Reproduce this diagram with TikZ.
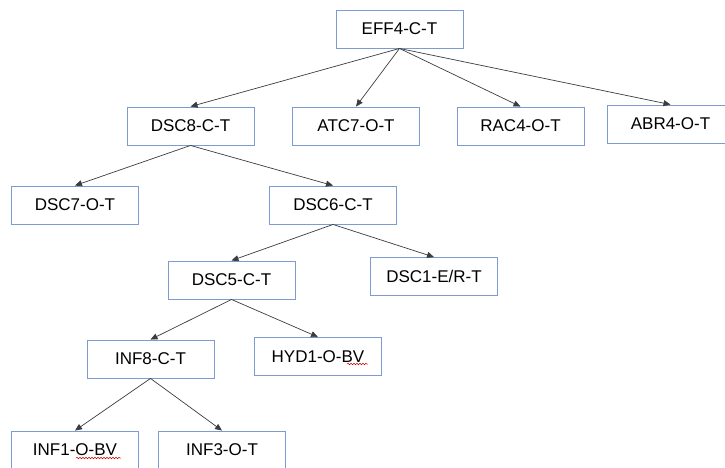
\documentclass[tikz,border=0pt]{standalone}
\usepackage{fontspec}
\setmainfont{Liberation Sans}
\usepackage{tikz}
\usetikzlibrary{positioning,arrows.meta,decorations.pathmorphing}
\definecolor{boxblue}{RGB}{125,155,208}
\definecolor{lnk}{RGB}{60,60,60}
\tikzset{%
  blk/.style={%
    draw=boxblue,
    line width=0.9pt,
    minimum width=127pt,
    minimum height=38pt,
    inner sep=0pt,
    font=\fontsize{17}{20}\selectfont
  },
  ptr/.style={%
    -{Triangle[length=7pt,width=6pt]},
    draw=lnk,
    line width=0.7pt
  },
  spell/.style={%
    draw=red!80!black,
    line width=0.5pt,
    decorate,
    decoration={snake,amplitude=0.8pt,segment length=3pt}
  }
}

\begin{document}
\begin{tikzpicture}[x=1pt,y=-1pt]
    \clip (0,0) rectangle (725,467);

    \node[blk] (eff4) at (399.5,29) {EFF4-C-T};

    \node[blk] (dsc8) at (190.5,126) {DSC8-C-T};
    \node[blk] (atc7) at (356,126) {ATC7-O-T};
    \node[blk] (rac4) at (520.5,126) {RAC4-O-T};
    \node[blk] (abr4) at (670.5,124) {ABR4-O-T};

    \node[blk] (dsc7) at (75,205) {DSC7-O-T};
    \node[blk] (dsc6) at (333,205) {DSC6-C-T};

    \node[blk] (dsc5) at (231.5,280) {DSC5-C-T};
    \node[blk] (dsc1) at (434,276.5) {DSC1-E/R-T};

    \node[blk] (inf8) at (150.5,359) {INF8-C-T};
    \node[blk] (hyd1) at (318,356.5) {HYD1-O-BV};

    \node[blk] (inf1) at (75,450) {INF1-O-BV};
    \node[blk] (inf3) at (222,450) {INF3-O-T};

    \draw[ptr] (eff4.south) -- (dsc8.north);
    \draw[ptr] (eff4.south) -- (atc7.north);
    \draw[ptr] (eff4.south) -- (rac4.north);
    \draw[ptr] (eff4.south) -- (abr4.north);

    \draw[ptr] (dsc8.south) -- (dsc7.north);
    \draw[ptr] (dsc8.south) -- (dsc6.north);

    \draw[ptr] (dsc6.south) -- (dsc5.north);
    \draw[ptr] (dsc6.south) -- (dsc1.north);

    \draw[ptr] (dsc5.south) -- (inf8.north);
    \draw[ptr] (dsc5.south) -- (hyd1.north);

    \draw[ptr] (inf8.south) -- (inf1.north);
    \draw[ptr] (inf8.south) -- (inf3.north);

    % spell-check marks
    \draw[spell] (347,364) -- (368,364);
    \draw[spell] (76,458) -- (121,458);
\end{tikzpicture}
\end{document}
